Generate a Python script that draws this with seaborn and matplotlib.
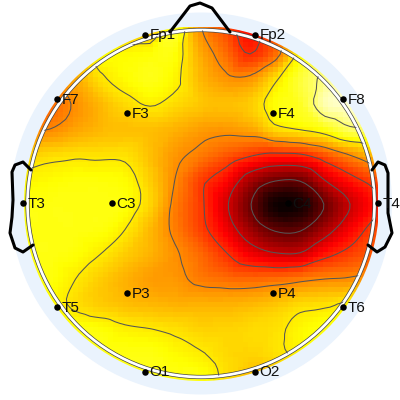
import numpy as np
import matplotlib
matplotlib.use("Agg")
import matplotlib.pyplot as plt
import matplotlib.tri as mtri
from matplotlib.patches import Circle
import seaborn as sns

# Scalp potential: rows top to bottom, columns left to right
grid_x = [25, 50, 75, 100, 125, 150, 175, 200, 225, 250, 275, 300, 325, 350, 375]
grid_y = [29, 54, 79, 104, 129, 154, 179, 204, 229, 254, 279, 304, 329, 354, 379]
row_01 = [.35, .35, .35, .26, .34, .36, .22, .42, .52, .62, .50, .35, .20, .15, .15]
row_02 = [.40, .40, .38, .26, .26, .25, .25, .38, .47, .57, .47, .26, .15, .10, .10]
row_03 = [.42, .42, .38, .30, .26, .235, .27, .36, .41, .41, .30, .20, .12, .08, .05]
row_04 = [.50, .48, .42, .36, .31, .28, .31, .34, .35, .33, .25, .22, .08, .05, .05]
row_05 = [.45, .43, .39, .36, .35, .35, .37, .40, .41, .39, .31, .28, .24, .16, .15]
row_06 = [.33, .31, .30, .30, .30, .35, .41, .45, .50, .55, .58, .57, .50, .42, .34]
row_07 = [.27, .26, .25, .25, .26, .33, .43, .54, .62, .76, .84, .84, .70, .60, .52]
row_08 = [.24, .24, .24, .24, .25, .32, .45, .55, .69, .85, .99, .98, .85, .71, .60]
row_09 = [.24, .24, .24, .245, .285, .36, .45, .54, .65, .78, .87, .87, .76, .64, .53]
row_10 = [.24, .24, .25, .285, .33, .37, .42, .48, .56, .65, .70, .70, .60, .54, .50]
row_11 = [.24, .245, .285, .33, .37, .40, .41, .45, .47, .48, .47, .45, .43, .42, .40]
row_12 = [.25, .26, .30, .33, .35, .36, .37, .37, .37, .36, .34, .31, .30, .27, .25]
row_13 = [.24, .24, .24, .25, .275, .285, .30, .32, .32, .31, .30, .265, .24, .24, .24]
row_14 = [.24, .24, .24, .24, .24, .24, .26, .28, .31, .32, .30, .27, .24, .24, .24]
row_15 = [.24, .24, .24, .24, .24, .24, .24, .24, .30, .36, .36, .30, .24, .24, .24]
levels = [.143, .286, .43, .57, .71, .857]

names = ["Fp1", "Fp2", "F7", "F3", "F4", "F8", "T3", "C3", "C4", "T4", "T5", "P3", "P4", "T6", "O1", "O2"]
elec_x = [145, 255, 57, 127, 273, 343, 23, 112, 288, 378, 57, 127, 273, 343, 145, 255]
elec_y = [35, 35, 99, 113, 113, 99, 203, 203, 203, 203, 307, 293, 293, 307, 372, 372]

CX, CY = 201, 203.5
CELL = 5

sns.set_theme(style="white")
plt.rcParams["font.family"] = ["Liberation Sans", "DejaVu Sans"]

values = np.array([row_01, row_02, row_03, row_04, row_05, row_06, row_07, row_08,
                   row_09, row_10, row_11, row_12, row_13, row_14, row_15])
gx, gy = np.meshgrid(grid_x, grid_y)
tri = mtri.Triangulation(gx.ravel(), gy.ravel())
interp = mtri.CubicTriInterpolator(tri, values.ravel(), kind="geom")
xs = np.arange(grid_x[0], grid_x[-1] + .1, CELL)
ys = np.arange(grid_y[0], grid_y[-1] + .1, CELL)
fx, fy = np.meshgrid(xs, ys)
fine = np.ma.filled(interp(fx, fy), np.nan)

fig = plt.figure(figsize=(4, 4), dpi=100, facecolor="white")

def box(x0, y0, x1, y1):
    return [x0 / 400, 1 - y1 / 400, (x1 - x0) / 400, (y1 - y0) / 400]

bg = fig.add_axes([0, 0, 1, 1], zorder=0)
bg.set_xlim(0, 400); bg.set_ylim(400, 0); bg.axis("off")
bg.add_patch(Circle((CX, CY), 191, fc="#EAF3FD", ec="none"))

hm = fig.add_axes(box(xs[0] - CELL / 2, ys[0] - CELL / 2, xs[-1] + CELL / 2, ys[-1] + CELL / 2), zorder=1)
sns.heatmap(fine, ax=hm, cmap=sns.color_palette("hot_r", as_cmap=True), vmin=0, vmax=1,
            cbar=False, xticklabels=False, yticklabels=False)
hm.axis("off")
hm.patch.set_alpha(0)

fg = fig.add_axes([0, 0, 1, 1], zorder=2)
fg.set_xlim(0, 400); fg.set_ylim(400, 0); fg.axis("off")
fg.patch.set_alpha(0)
disc = Circle((CX, CY), 177.5, transform=fg.transData)
hm.collections[0].set_clip_path(disc)

cs = fg.contour(fx, fy, fine, levels=levels, colors="#555555", linewidths=0.75)
cs.set_clip_path(Circle((CX, CY), 173, transform=fg.transData))

fg.add_patch(Circle((CX, CY), 173.5, fc="none", ec="#444444", lw=3.0))
fg.add_patch(Circle((CX, CY), 173.5, fc="none", ec="white", lw=2.0))

ear_l_x = [31, 23, 15, 12, 13, 12, 10, 15, 23, 33]
ear_l_y = [170, 162, 165, 172, 200, 217, 233, 248, 252, 245]
ear_r_x = [372, 378, 385, 388, 388, 392, 385, 377, 368]
ear_r_y = [170, 162, 165, 173, 213, 233, 247, 252, 245]
nose_x = [170, 190, 200, 212, 230]
nose_y = [32, 6, 3, 8, 32]
for ox, oy in ((ear_l_x, ear_l_y), (ear_r_x, ear_r_y), (nose_x, nose_y)):
    fg.plot(ox, oy, color="black", lw=2.2, solid_capstyle="round", solid_joinstyle="round")

fg.scatter(elec_x, elec_y, s=22, color="black", zorder=5, linewidths=0)
for n, x, y in zip(names, elec_x, elec_y):
    fg.text(x + 4.5, y + .5, n, fontsize=11, color="#111111", ha="left", va="center", zorder=6)

fig.savefig("out.png", dpi=100, facecolor="white")
